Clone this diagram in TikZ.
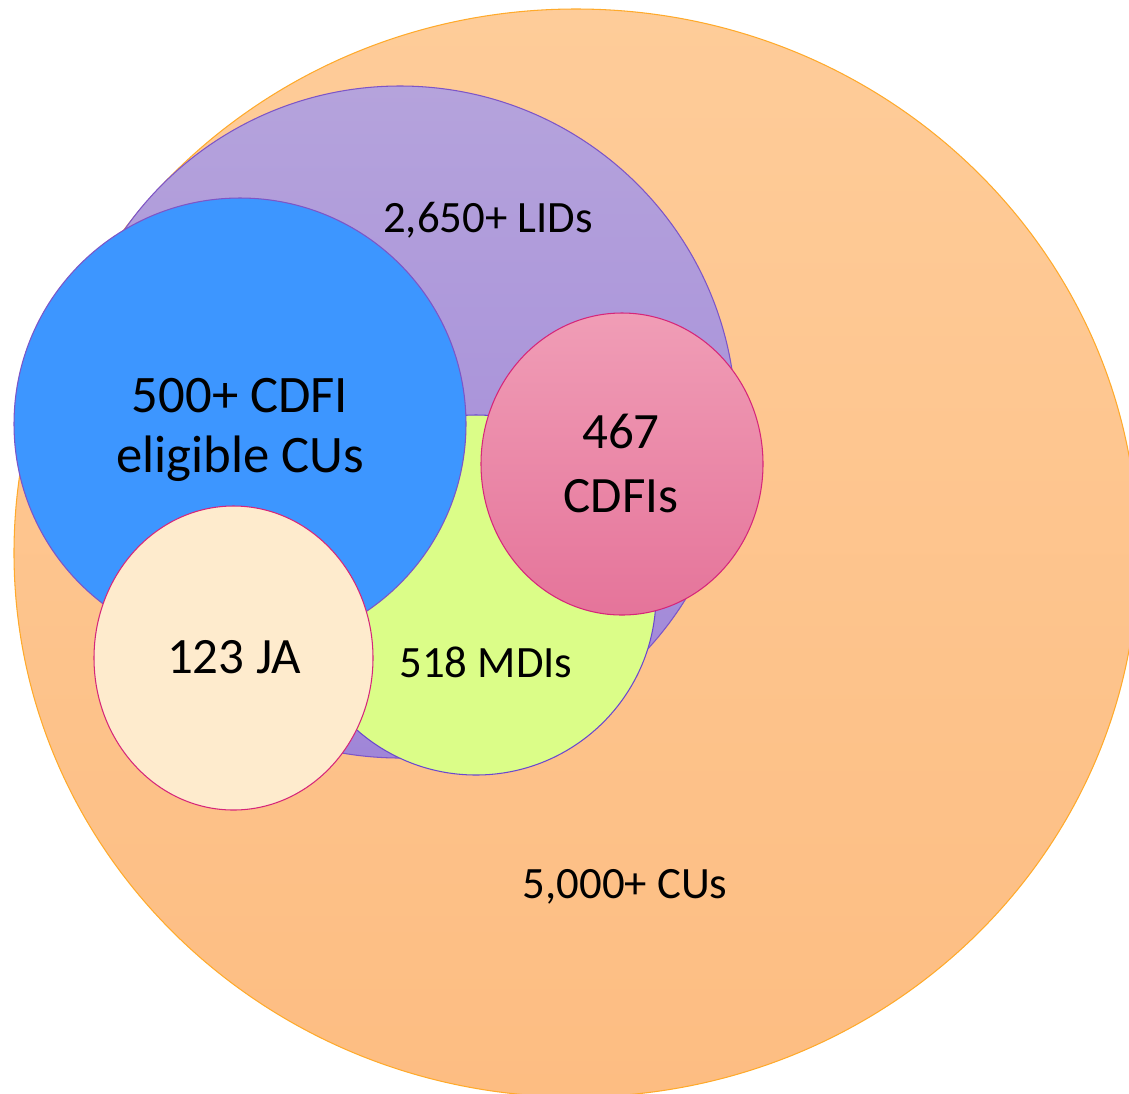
\documentclass[tikz,border=0pt]{standalone}
\usepackage{fontspec}
\setmainfont{Carlito}

\definecolor{cuTop}{HTML}{FECC99}
\definecolor{cuBottom}{HTML}{FDBD82}
\definecolor{cuLine}{HTML}{FFAA2B}
\definecolor{lidTop}{HTML}{B5A3DC}
\definecolor{lidBottom}{HTML}{A086D8}
\definecolor{lidLine}{HTML}{7D55C7}
\definecolor{eligFill}{HTML}{3D96FF}
\definecolor{mdiFill}{HTML}{DBFD88}
\definecolor{cdfiTop}{HTML}{F09DB6}
\definecolor{cdfiBottom}{HTML}{E5749A}
\definecolor{cdfiLine}{HTML}{D6267A}
\definecolor{jaFill}{HTML}{FEEBCD}

\tikzset{
	setlabel/.style={align=center, anchor=base, text=black},
	bigtext/.style={font=\fontsize{29}{36.3}\selectfont},
	midtext/.style={font=\fontsize{25.5}{31}\selectfont}
}

\begin{document}
\begin{tikzpicture}[x=0.02cm, y=-0.02cm, line width=0.6pt] % one unit = one pixel
	\useasboundingbox (0,0) rectangle (1129,1093);
	\clip (0,0) rectangle (1129,1093);
	
	% sets, back to front
	\shade[top color=cuTop, bottom color=cuBottom, draw=cuLine] (576,553) ellipse [x radius=562, y radius=544];      % all CUs
	\shade[top color=lidTop, bottom color=lidBottom, draw=lidLine] (400,422) circle [radius=336];                   % LIDs
	\filldraw[fill=mdiFill, draw=lidLine!85!blue] (476,595) circle [radius=180];                                     % MDIs
	\filldraw[fill=eligFill, draw=lidLine] (240,424) ellipse [x radius=226, y radius=226];                           % CDFI eligible
	\shade[top color=cdfiTop, bottom color=cdfiBottom, draw=cdfiLine] (622,464) ellipse [x radius=141, y radius=151]; % CDFIs
	\filldraw[fill=jaFill, draw=cdfiLine] (233.5,658) ellipse [x radius=139.5, y radius=152];                        % JA
	
	% labels (base = last line)
	\node[setlabel, midtext] (lids) at (488,232) {2,650+ LIDs};
	\node[setlabel, font=\fontsize{30}{34}\selectfont] (elig) at (240,472) {500+ CDFI\\eligible CUs};
	\node[setlabel, bigtext] (cdfis) at (621,512) {467\\CDFIs};
	\node[setlabel, midtext] (mdis) at (486,677) {518 MDIs};
	\node[setlabel, bigtext] (ja) at (234,673) {123 JA};
	\node[setlabel, midtext] (cus) at (625,898) {5,000+ CUs};
\end{tikzpicture}
\end{document}
